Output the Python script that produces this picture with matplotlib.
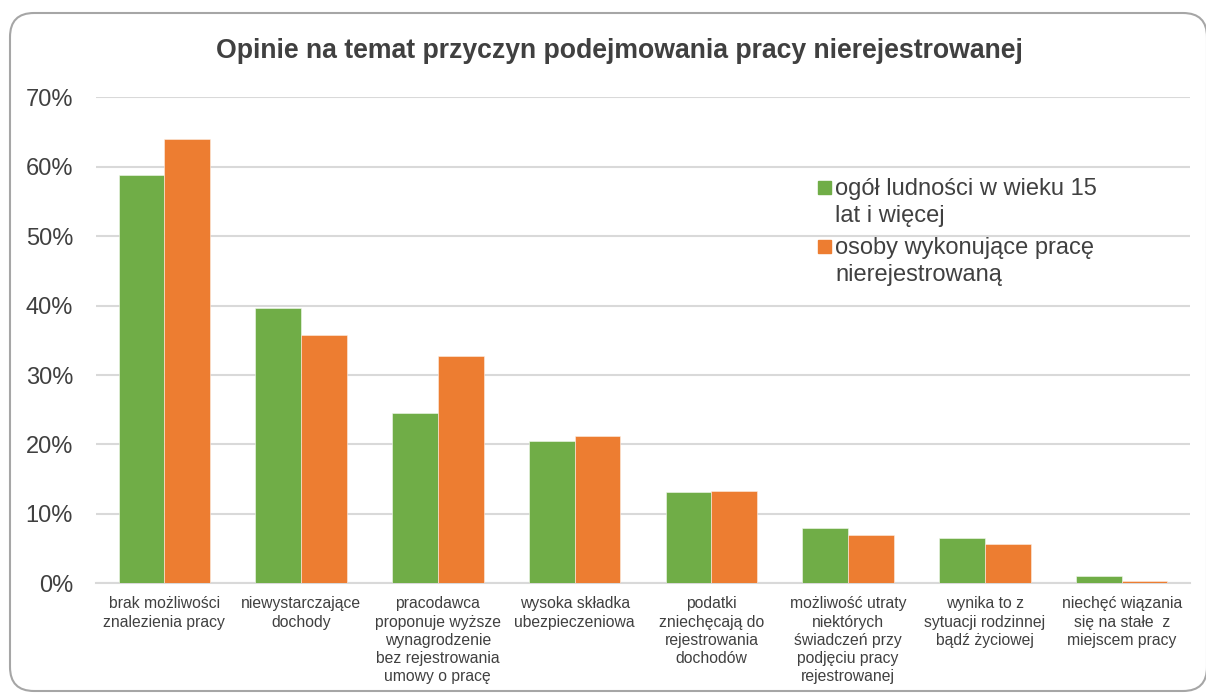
import numpy as np
import matplotlib
matplotlib.use('Agg')
import matplotlib.pyplot as plt
from matplotlib.patches import FancyBboxPatch, Rectangle

# data (share of answers, %)
CATEGORIES = [
    'brak możliwości\nznalezienia pracy',
    'niewystarczające\ndochody',
    'pracodawca\nproponuje wyższe\nwynagrodzenie\nbez rejestrowania\numowy o pracę',
    'wysoka składka\nubezpieczeniowa',
    'podatki\nzniechęcają do\nrejestrowania\ndochodów',
    'możliwość utraty\nniektórych\nświadczeń przy\npodjęciu pracy\nrejestrowanej',
    'wynika to z\nsytuacji rodzinnej\nbądź życiowej',
    'niechęć wiązania\nsię na stałe  z\nmiejscem pracy',
]
OGOL = [58.8, 39.6, 24.6, 20.5, 13.1, 8.0, 6.5, 1.0]
NIEREJ = [64.0, 35.7, 32.7, 21.2, 13.3, 7.0, 5.6, 0.3]
SERIES_LABELS = ['ogół ludności w wieku 15\nlat i więcej',
                 'osoby wykonujące pracę\nnierejestrowaną']
Y_TICKS = [0, 10, 20, 30, 40, 50, 60, 70]

GREEN = '#70AD47'
ORANGE = '#ED7D31'
TXT = '#404040'
GRID = '#D9D9D9'

plt.rcParams['font.family'] = ['Liberation Sans', 'DejaVu Sans']

W, H = 1206, 693
fig = plt.figure(figsize=(W / 100, H / 100), dpi=100)
ax = fig.add_axes([96 / W, (H - 583.3) / H, (1190 - 96) / W, (583.3 - 97.4) / H])

x = np.arange(len(CATEGORIES))
bw = 0.335
ax.bar(x - bw / 2, OGOL, bw, color=GREEN, edgecolor='#f4f9f0', linewidth=0.4, zorder=3)
ax.bar(x + bw / 2, NIEREJ, bw, color=ORANGE, edgecolor='#fdf0e6', linewidth=0.4, zorder=3)

ax.set_xlim(-0.5, len(CATEGORIES) - 0.5)
ax.set_ylim(0, 70)
ax.set_yticks(Y_TICKS)
ax.set_yticklabels([f'{t}%' for t in Y_TICKS], fontsize=17, color=TXT)
ax.set_xticks(x)
ax.set_xticklabels(CATEGORIES, fontsize=11.3, color=TXT, linespacing=1.26)
ax.tick_params(axis='both', length=0)
ax.tick_params(axis='y', pad=16.5)
ax.tick_params(axis='x', pad=9.5)
ax.grid(axis='y', color=GRID, linewidth=1.5, zorder=0)
for s in ['top', 'right', 'left']:
    ax.spines[s].set_visible(False)
ax.spines['bottom'].set_color(GRID)
ax.spines['bottom'].set_linewidth(1.5)

# legend drawn by hand so the square sits on the first line
for i, (lbl, col) in enumerate(zip(SERIES_LABELS, [GREEN, ORANGE])):
    yc = [187, 246][i]
    fig.patches.append(Rectangle((818 / W, (H - yc - 6.5) / H), 13 / W, 13 / H,
                                 transform=fig.transFigure, color=col))
    fig.text(835 / W, (H - yc + 9) / H, lbl, fontsize=17, color=TXT,
             va='top', ha='left', linespacing=1.28)

fig.text(619 / W, (H - 51) / H, 'Opinie na temat przyczyn podejmowania pracy nierejestrowanej',
         fontsize=19.2, fontweight='bold', color=TXT, ha='center', va='center')

# rounded frame around the chart
frame = FancyBboxPatch((10, 2), 1197, 678, boxstyle='round,pad=0,rounding_size=24',
                       transform=None, facecolor='none', edgecolor='#A6A6A6',
                       linewidth=1.5)
fig.patches.append(frame)

fig.savefig('out.png', dpi=100)
